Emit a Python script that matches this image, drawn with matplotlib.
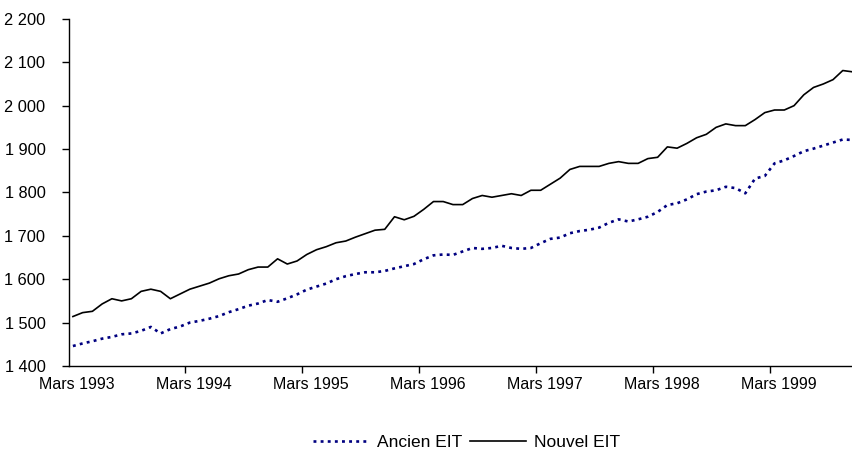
import matplotlib
matplotlib.use("Agg")
import matplotlib.pyplot as plt
from matplotlib.ticker import FuncFormatter, FixedLocator

plt.rcParams['font.family'] = ['Liberation Sans', 'DejaVu Sans']

# monthly series, March 1993 to November 1999
ancien_eit = [
    1446, 1452, 1457, 1463, 1467, 1473, 1475, 1481, 1490, 1475, 1485, 1491,
    1500, 1504, 1509, 1515, 1524, 1531, 1539, 1544, 1552, 1548, 1556, 1565,
    1576, 1583, 1590, 1600, 1607, 1612, 1616, 1616, 1619, 1625, 1630, 1635,
    1646, 1655, 1657, 1656, 1664, 1672, 1670, 1672, 1677, 1672, 1670, 1672,
    1683, 1693, 1696, 1706, 1711, 1714, 1719, 1730, 1738, 1733, 1738, 1744,
    1755, 1771, 1775, 1784, 1796, 1802, 1805, 1813, 1810, 1798, 1832, 1838,
    1867, 1874, 1884, 1895, 1901, 1908, 1915, 1922, 1921,
]
nouvel_eit = [
    1514, 1523, 1526, 1543, 1555, 1550, 1555, 1572, 1577, 1572, 1555, 1566,
    1577, 1584, 1591, 1601, 1608, 1612, 1622, 1628, 1628, 1647, 1635, 1642,
    1657, 1668, 1675, 1684, 1688, 1697, 1705, 1713, 1715, 1744, 1737, 1745,
    1761, 1779, 1779, 1772, 1772, 1786, 1793, 1789, 1793, 1797, 1793, 1805,
    1805, 1819, 1833, 1853, 1860, 1860, 1860, 1867, 1871, 1867, 1867, 1878,
    1881, 1905, 1902, 1913, 1926, 1934, 1950, 1958, 1954, 1954, 1968, 1984,
    1990, 1990, 2000, 2025, 2042, 2050, 2060, 2081, 2078,
]
year_labels = ["Mars 1993", "Mars 1994", "Mars 1995", "Mars 1996",
               "Mars 1997", "Mars 1998", "Mars 1999"]

months = list(range(len(nouvel_eit)))

fig = plt.figure(figsize=(8.53, 4.5), dpi=100)
ax = fig.add_axes([0.0809, 0.1867, 0.9191, 0.7713])

ax.plot(months, ancien_eit, color="#000080", lw=1.9,
        linestyle=(0, (1.1, 1.6)), label="Ancien EIT")
ax.plot(months, nouvel_eit, color="black", lw=1.2, label="Nouvel EIT")

ax.set_xlim(-0.4, 80.05)
ax.set_ylim(1400, 2200)

# tick marks between categories, labels on the March point
ax.xaxis.set_major_locator(FixedLocator([12 * k - 0.45 for k in range(7)]))
ax.xaxis.set_minor_locator(FixedLocator([12 * k + 0.45 for k in range(7)]))
ax.set_xticklabels([], minor=False)
ax.set_xticklabels(year_labels, minor=True)
ax.tick_params(axis="x", which="major", direction="out", length=5, width=1)
ax.tick_params(axis="x", which="minor", length=0, pad=8, labelsize=11.5)

# french style thousands separator
ax.set_yticks(range(1400, 2201, 100))
ax.yaxis.set_major_formatter(FuncFormatter(lambda v, p: f"{int(v):,}".replace(",", " ")))
ax.tick_params(axis="y", direction="out", length=5, width=1, labelsize=11.8, pad=12)

for s in ["top", "right"]:
    ax.spines[s].set_visible(False)
for s in ["left", "bottom"]:
    ax.spines[s].set_linewidth(1)

fig.legend(loc="lower center", bbox_to_anchor=(0.547, -0.035), ncol=2,
           frameon=False, fontsize=12.5, handlelength=3.2,
           handletextpad=0.45, columnspacing=0.5)

fig.savefig("out.png", dpi=100)
